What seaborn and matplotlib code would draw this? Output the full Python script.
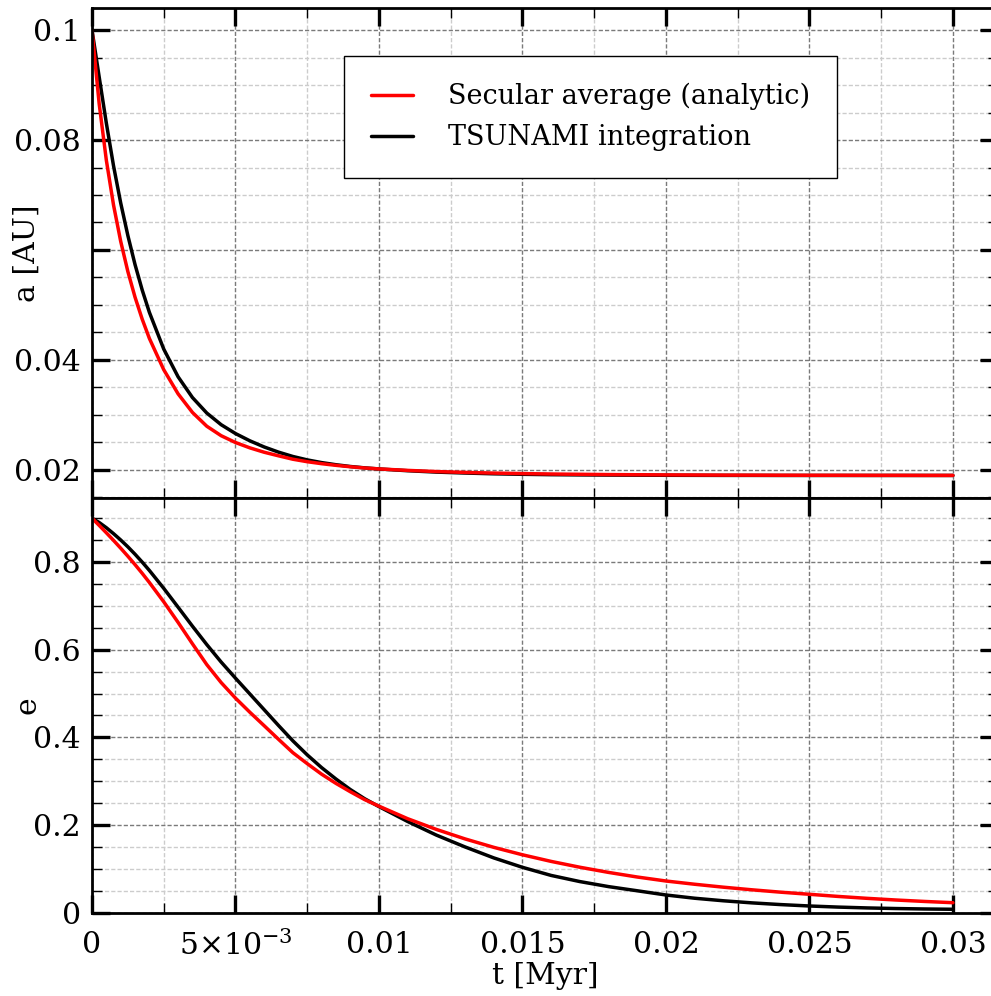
import matplotlib
matplotlib.use('Agg')
import matplotlib.pyplot as plt
import seaborn as sns
from matplotlib.lines import Line2D
from matplotlib.ticker import MultipleLocator, FixedLocator, FixedFormatter

# time [Myr]
t_myr = [0, 0.00025, 0.0005, 0.00075, 0.001, 0.00125, 0.0015, 0.00175, 0.002,
         0.0025, 0.003, 0.0035, 0.004, 0.0045, 0.005, 0.0055, 0.006, 0.0065,
         0.007, 0.0075, 0.008, 0.0085, 0.009, 0.0095, 0.01,
         0.011, 0.012, 0.013, 0.014, 0.015, 0.016, 0.017, 0.018, 0.019, 0.02,
         0.021, 0.022, 0.023, 0.024, 0.025, 0.026, 0.027, 0.028, 0.029, 0.03]

# semi-major axis [AU]
a_secular = [0.1, 0.08659, 0.07631, 0.06818, 0.06157, 0.05607, 0.05141, 0.04741, 0.04391,
             0.03823, 0.03384, 0.03046, 0.02795, 0.02623, 0.02499, 0.02402, 0.02322, 0.02257,
             0.02195, 0.02150, 0.02114, 0.02084, 0.02058, 0.02036, 0.02019,
             0.01992, 0.01971, 0.01955, 0.01943, 0.01934, 0.01926, 0.01921, 0.01916, 0.01913, 0.0191,
             0.01908, 0.01906, 0.01905, 0.01904, 0.01903, 0.01903, 0.01902, 0.01902, 0.01901, 0.01901]
a_tsunami = [0.1, 0.09147, 0.08306, 0.07531, 0.06855, 0.06262, 0.05734, 0.05271, 0.04865,
             0.04198, 0.03694, 0.03317, 0.03035, 0.02823, 0.02662, 0.0253, 0.02418, 0.02324,
             0.02245, 0.02183, 0.02134, 0.02095, 0.02063, 0.02038, 0.02018,
             0.01986, 0.01961, 0.01944, 0.0193, 0.01921, 0.01914, 0.0191, 0.01907, 0.01905, 0.01903,
             0.01902, 0.01901, 0.01901, 0.019, 0.019, 0.019, 0.019, 0.019, 0.019, 0.019]

# eccentricity
e_secular = [0.9, 0.8835, 0.8666, 0.8493, 0.8315, 0.8131, 0.794, 0.7741, 0.7532,
             0.7092, 0.6622, 0.6134, 0.5659, 0.525, 0.4895, 0.4573, 0.4265, 0.3955,
             0.365, 0.340, 0.316, 0.295, 0.276, 0.258, 0.243,
             0.2144, 0.190, 0.1683, 0.1491, 0.1321, 0.117, 0.1037, 0.0919, 0.0814, 0.0723,
             0.0649, 0.0582, 0.0522, 0.0468, 0.042, 0.0371, 0.0328, 0.029, 0.0257, 0.0228]
e_tsunami = [0.9, 0.8901, 0.8782, 0.8647, 0.8502, 0.8346, 0.8177, 0.7997, 0.7807,
             0.7399, 0.6969, 0.6536, 0.6116, 0.5718, 0.535, 0.499, 0.463, 0.427,
             0.392, 0.360, 0.331, 0.305, 0.281, 0.260, 0.242,
             0.208, 0.177, 0.150, 0.125, 0.1035, 0.085, 0.071, 0.0595, 0.050, 0.0404,
             0.033, 0.0272, 0.0224, 0.0185, 0.0153, 0.0128, 0.0109, 0.0095, 0.0085, 0.0078]

t_ticks = [0, 0.005, 0.01, 0.015, 0.02, 0.025, 0.03]
t_tick_labels = ['0', r'$5{\times}10^{-3}$', '0.01', '0.015', '0.02', '0.025', '0.03']
a_ticks = [0.02, 0.04, 0.06, 0.08, 0.1]
a_tick_labels = ['0.02', '0.04', '', '0.08', '0.1']
e_ticks = [0, 0.2, 0.4, 0.6, 0.8]
e_tick_labels = ['0', '0.2', '0.4', '0.6', '0.8']

sns.set_style('ticks')
plt.rcParams['font.family'] = ['DejaVu Serif']
plt.rcParams['mathtext.fontset'] = 'dejavuserif'
for key in ['text.color', 'axes.labelcolor', 'axes.edgecolor', 'xtick.color', 'ytick.color']:
    plt.rcParams[key] = 'black'
FS = 21.5

fig = plt.figure(figsize=(9.91, 9.96), dpi=100)
W, H = 991, 996
x0, x1 = 92, 998
ax_a = fig.add_axes([x0 / W, 1 - 498 / H, (x1 - x0) / W, (498 - 8.3) / H])
ax_e = fig.add_axes([x0 / W, 1 - 912.7 / H, (x1 - x0) / W, (912.7 - 498) / H])

sns.lineplot(x=t_myr, y=a_tsunami, ax=ax_a, color='black', linewidth=2.5)
sns.lineplot(x=t_myr, y=a_secular, ax=ax_a, color='#ff0000', linewidth=2.5)
sns.lineplot(x=t_myr, y=e_tsunami, ax=ax_e, color='black', linewidth=2.5)
sns.lineplot(x=t_myr, y=e_secular, ax=ax_e, color='#ff0000', linewidth=2.5)

for ax in (ax_a, ax_e):
    ax.set_xlim(0, 0.03157)
    ax.xaxis.set_major_locator(FixedLocator(t_ticks))
    ax.xaxis.set_minor_locator(MultipleLocator(0.0025))
    ax.set_axisbelow(True)
    ax.grid(which='major', color='#7a7a7a', linestyle=(0, (3, 1.5)), linewidth=1.0)
    ax.grid(which='minor', color='#cccccc', linestyle=(0, (3, 1.5)), linewidth=1.0)
    ax.tick_params(which='major', direction='in', top=True, right=True,
                   length=13, width=2.4, labelsize=FS, pad=8)
    ax.tick_params(which='minor', direction='in', top=True, right=True,
                   length=7, width=1.0)
    for sp in ax.spines.values():
        sp.set_linewidth(2.0)
        sp.set_visible(True)

ax_a.set_ylim(0.0149, 0.10395)
ax_a.yaxis.set_major_locator(FixedLocator(a_ticks))
ax_a.yaxis.set_major_formatter(FixedFormatter(a_tick_labels))
ax_a.yaxis.set_minor_locator(MultipleLocator(0.005))
ax_a.tick_params(labelbottom=False)
ax_a.set_xlabel('')
ax_a.set_ylabel('a [AU]', fontsize=FS)
ax_a.yaxis.set_label_coords(-0.057, 0.5)

ax_e.set_ylim(0, 0.946)
ax_e.yaxis.set_major_locator(FixedLocator(e_ticks))
ax_e.yaxis.set_major_formatter(FixedFormatter(e_tick_labels))
ax_e.yaxis.set_minor_locator(MultipleLocator(0.05))
ax_e.xaxis.set_major_formatter(FixedFormatter(t_tick_labels))
ax_e.tick_params(axis='x', which='major', pad=13)
ax_e.set_ylabel('e', fontsize=FS)
ax_e.yaxis.set_label_coords(-0.056, 0.5)
ax_e.set_xlabel('t [Myr]', fontsize=FS)
ax_e.xaxis.set_label_coords(0.5, -0.118)

h_sec = Line2D([], [], color='#ff0000', linewidth=2.5)
h_tsu = Line2D([], [], color='black', linewidth=2.5)
leg = ax_a.legend([h_sec, h_tsu], ['Secular average (analytic)', 'TSUNAMI integration'],
                  loc='upper left', bbox_to_anchor=(344 / W, 1 - 56 / H),
                  bbox_transform=fig.transFigure, borderaxespad=0,
                  fontsize=19.5, handlelength=1.55, handletextpad=1.29,
                  borderpad=1.0, labelspacing=0.5, fancybox=False,
                  framealpha=1, edgecolor='black')
leg.get_frame().set_linewidth(1.0)

fig.savefig('out.png', dpi=100)
